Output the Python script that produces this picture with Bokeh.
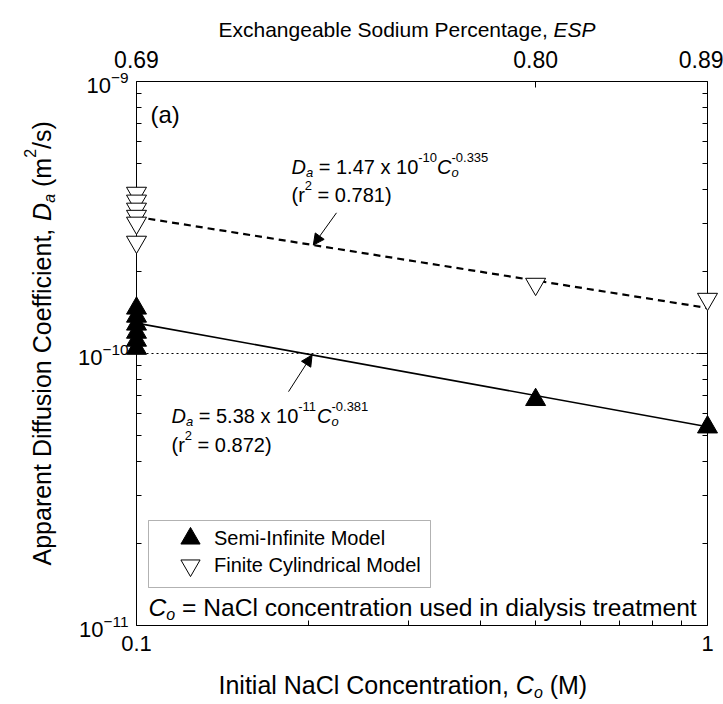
import math
from bokeh.plotting import figure
from bokeh.models import (LogAxis, FixedTicker, CustomJSTickFormatter, LogTickFormatter,
                          Label, Legend, LegendItem, Arrow, NormalHead, Range1d, BoxAnnotation)
from bokeh.embed import file_html
from bokeh.resources import INLINE

# ---------------- data ----------------
semi_conc = [0.1, 0.1, 0.1, 0.1, 0.1, 0.1, 0.5, 1.0]
semi_da = [1.466e-10, 1.369e-10, 1.28e-10, 1.195e-10, 1.117e-10, 1.043e-10, 6.76e-11, 5.36e-11]

finite_conc = [0.1, 0.1, 0.1, 0.1, 0.1, 0.1, 0.5, 1.0]
finite_da = [3.89e-10, 3.64e-10, 3.40e-10, 3.20e-10, 3.02e-10, 2.57e-10, 1.80e-10, 1.585e-10]

fit_conc = [0.1, 1.0]
semi_fit_coef, semi_fit_exp = 5.38e-11, -0.381
finite_fit_coef, finite_fit_exp = 1.47e-10, -0.335

ref_level = 1e-10

conc_bounds = (0.1, 1.0)
da_bounds = (1e-11, 1e-9)
c_ticks = [0.1, 1.0]
c_tick_labels = ["0.1", "1"]
c_minor_ticks = [0.2, 0.3, 0.4, 0.5, 0.6, 0.7, 0.8, 0.9]
esp_tick_pos = [0.1, 0.5, 1.0]
esp_tick_labels = ["0.69", "0.80", "0.89"]
da_ticks = [1e-11, 1e-10, 1e-9]
da_minor_ticks = [k * 1e-11 for k in range(2, 10)] + [k * 1e-10 for k in range(2, 10)]

# arrows (tail x, tail y, head x) ; head y lies on the fit line
arrow_finite = (0.224, 3.29e-10, 0.204)
arrow_semi = (0.1846, 7.24e-11, 0.203)

FONT = "Liberation Sans"

# ---------------- layout (pixels) ----------------
W, H = 723, 704
PAD_L, PAD_R, PAD_T, PAD_B = 136, 16, 81, 79     # space outside the axes box
box_w = W - PAD_L - PAD_R
box_h = H - PAD_T - PAD_B
lx0, lx1 = math.log10(conc_bounds[0]), math.log10(conc_bounds[1])
ly0, ly1 = math.log10(da_bounds[0]), math.log10(da_bounds[1])
x_range = Range1d(10 ** (lx0 - PAD_L / box_w * (lx1 - lx0)), 10 ** (lx1 + PAD_R / box_w * (lx1 - lx0)))
y_range = Range1d(10 ** (ly0 - PAD_B / box_h * (ly1 - ly0)), 10 ** (ly1 + PAD_T / box_h * (ly1 - ly0)))

p = figure(width=W, height=H, x_axis_type="log", y_axis_type="log",
           x_range=x_range, y_range=y_range,
           output_backend="svg", toolbar_location=None, min_border=0)
p.title.visible = False
p.xgrid.visible = False
p.ygrid.visible = False
p.outline_line_color = None
p.background_fill_color = "white"
p.border_fill_color = "white"

def style_axis(ax, label_size="22px"):
    ax.axis_line_color = "black"
    ax.axis_line_width = 1
    ax.major_tick_in = 9
    ax.major_tick_out = 0
    ax.minor_tick_in = 5
    ax.minor_tick_out = 0
    ax.major_tick_line_color = "black"
    ax.minor_tick_line_color = "black"
    ax.major_label_text_font = FONT
    ax.major_label_text_font_size = label_size
    ax.major_label_text_color = "black"

fmt_code = """
let best = 0, bd = Infinity;
for (let i = 0; i < tpos.length; i++) {
  const d = Math.abs(Math.log10(tick) - Math.log10(tpos[i]));
  if (d < bd) { bd = d; best = i; }
}
return tlab[best];
"""

# bottom
xb = p.xaxis[0]
xb.ticker = FixedTicker(ticks=c_ticks, minor_ticks=c_minor_ticks)
xb.formatter = CustomJSTickFormatter(args=dict(tpos=c_ticks, tlab=c_tick_labels), code=fmt_code)
xb.fixed_location = da_bounds[0]
xb.bounds = conc_bounds
style_axis(xb)
xb.major_label_standoff = 10

# left
yl = p.yaxis[0]
yl.ticker = FixedTicker(ticks=da_ticks, minor_ticks=da_minor_ticks)
yl.formatter = LogTickFormatter()
yl.fixed_location = conc_bounds[0]
yl.bounds = da_bounds
style_axis(yl)
yl.major_label_standoff = 8

# right
yr = LogAxis(ticker=FixedTicker(ticks=da_ticks, minor_ticks=da_minor_ticks),
             formatter=CustomJSTickFormatter(code="return ''"),
             fixed_location=conc_bounds[1], bounds=da_bounds)
style_axis(yr)
yr.major_label_text_font_size = "0px"
p.add_layout(yr, "right")

# top (ESP)
xt = LogAxis(ticker=FixedTicker(ticks=esp_tick_pos, minor_ticks=[]),
             formatter=CustomJSTickFormatter(args=dict(tpos=esp_tick_pos, tlab=esp_tick_labels), code=fmt_code),
             fixed_location=da_bounds[1], bounds=conc_bounds)
style_axis(xt, "23px")
xt.major_tick_in = 6
xt.major_label_standoff = 14
p.add_layout(xt, "above")

# ---------------- marks ----------------
p.line(list(conc_bounds), [ref_level, ref_level], line_color="black", line_width=1, line_dash="2 3")

semi_fit = [semi_fit_coef * c ** semi_fit_exp for c in fit_conc]
fin_fit = [finite_fit_coef * c ** finite_fit_exp for c in fit_conc]
p.line(fit_conc, semi_fit, line_color="black", line_width=1.6)
p.line(fit_conc, fin_fit, line_color="black", line_width=2.2, line_dash="7 5")

r_semi = p.scatter(semi_conc, semi_da, marker="triangle", size=20,
                   fill_color="black", line_color="black", line_width=1, level="overlay")
r_fin = p.scatter(finite_conc, finite_da, marker="inverted_triangle", size=20,
                  fill_color="white", line_color="black", line_width=1, level="overlay")

for (tx, ty, hx), coef, ex in [(arrow_finite, finite_fit_coef, finite_fit_exp),
                               (arrow_semi, semi_fit_coef, semi_fit_exp)]:
    p.add_layout(Arrow(x_start=tx, y_start=ty, x_end=hx, y_end=coef * hx ** ex,
                       line_color="black", line_width=1,
                       end=NormalHead(size=11, fill_color="black", line_color="black", line_width=1)))

# ---------------- legend ----------------
LEG_L, LEG_R, LEG_T, LEG_B = 148, 430, 520, 587
ROW_Y = [538, 565]
GLYPH = 48
p.add_layout(BoxAnnotation(left=LEG_L, right=LEG_R, top=H - LEG_T, bottom=H - LEG_B,
                           left_units="screen", right_units="screen",
                           top_units="screen", bottom_units="screen",
                           fill_color="white", fill_alpha=1.0,
                           line_color="black", line_width=1, level="annotation"))
for rend, lab, ry in [(r_semi, "Semi-Infinite Model", ROW_Y[0]), (r_fin, "Finite Cylindrical Model", ROW_Y[1])]:
    p.add_layout(Legend(items=[LegendItem(label=lab, renderers=[rend])],
                        location=(166, H - ry - GLYPH / 2), orientation="vertical",
                        glyph_width=GLYPH, glyph_height=GLYPH, spacing=0, padding=0, label_standoff=-4,
                        label_text_font=FONT, label_text_font_size="20px", label_text_baseline="middle",
                        label_text_color="black",
                        border_line_color=None, background_fill_alpha=0.0, margin=0))

# ---------------- rich text helper ----------------
WID = {' ': 278, '(': 333, ')': 333, ',': 278, '-': 333, '.': 278, '/': 278, '=': 584,
       'A': 667, 'C': 722, 'D': 722, 'E': 667, 'F': 611, 'I': 278, 'M': 833, 'N': 722,
       'P': 667, 'S': 667, 'a': 556, 'b': 556, 'c': 500, 'd': 556, 'e': 556, 'f': 278,
       'g': 556, 'h': 556, 'i': 222, 'l': 222, 'm': 833, 'n': 556, 'o': 556, 'p': 556,
       'r': 333, 's': 500, 't': 278, 'u': 556, 'x': 500, 'y': 500}

def tw(s, size):
    return sum(WID.get(ch, 556) for ch in s) * size / 1000.0

def rich(parts, x, y, base, angle=0.0):
    """parts: (text, role, italic, advance); x, y = canvas px of baseline start"""
    adv = 0.0
    for text, role, italic, advance in parts:
        if role == "n":
            size, shift = base, 0.0
        elif role == "sub":
            size, shift = round(base * 0.65), -0.3 * base
        else:
            size, shift = round(base * 0.65), 0.45 * base
        lead = len(text) - len(text.lstrip(" "))
        off = adv + tw(" " * lead, size)
        if angle == 0.0:
            lx, ly = x + off, (H - y) + shift
        else:
            lx, ly = x - shift, (H - y) + off
        p.add_layout(Label(x=lx, y=ly, x_units="screen", y_units="screen", text=text.strip(" "),
                           text_font=FONT, text_font_size=f"{size}px",
                           text_font_style="italic" if italic else "normal",
                           text_color="black", text_baseline="alphabetic",
                           text_align="left", angle=angle))
        if advance:
            adv += tw(text, size)

B = 20
rich([("(a)", "n", False, True)], 150, 114, 24)
rich([("D", "n", True, True), ("a", "sub", True, True), (" = 1.47 x 10", "n", False, True),
      ("-10", "sup", False, True), ("C", "n", True, True), ("o", "sub", True, False),
      ("-0.335", "sup", False, True)], 291, 166, B)
rich([("(r", "n", False, True), ("2", "sup", False, True), (" = 0.781)", "n", False, True)], 291, 194, B)
rich([("D", "n", True, True), ("a", "sub", True, True), (" = 5.38 x 10", "n", False, True),
      ("-11", "sup", False, True), ("C", "n", True, True), ("o", "sub", True, False),
      ("-0.381", "sup", False, True)], 171, 415, B)
rich([("(r", "n", False, True), ("2", "sup", False, True), (" = 0.872)", "n", False, True)], 171, 444, B)
rich([("C", "n", True, True), ("o", "sub", True, True),
      (" = NaCl concentration used in dialysis treatment", "n", False, True)], 148, 607, 24.6)

# axis titles
rich([("Exchangeable Sodium Percentage, ", "n", False, True), ("ESP", "n", True, True)],
     218, 29, 21)
rich([("Initial NaCl Concentration, ", "n", False, True), ("C", "n", True, True),
      ("o", "sub", True, True), (" (M)", "n", False, True)], 218, 684, 25)
rich([("Apparent Diffusion Coefficient, ", "n", False, True), ("D", "n", True, True),
      ("a", "sub", True, True), (" (m", "n", False, True), ("2", "sup", False, True),
      ("/s)", "n", False, True)], 41, 565, 25, angle=math.pi / 2)

open("out.html", "w").write(file_html(p, INLINE))
